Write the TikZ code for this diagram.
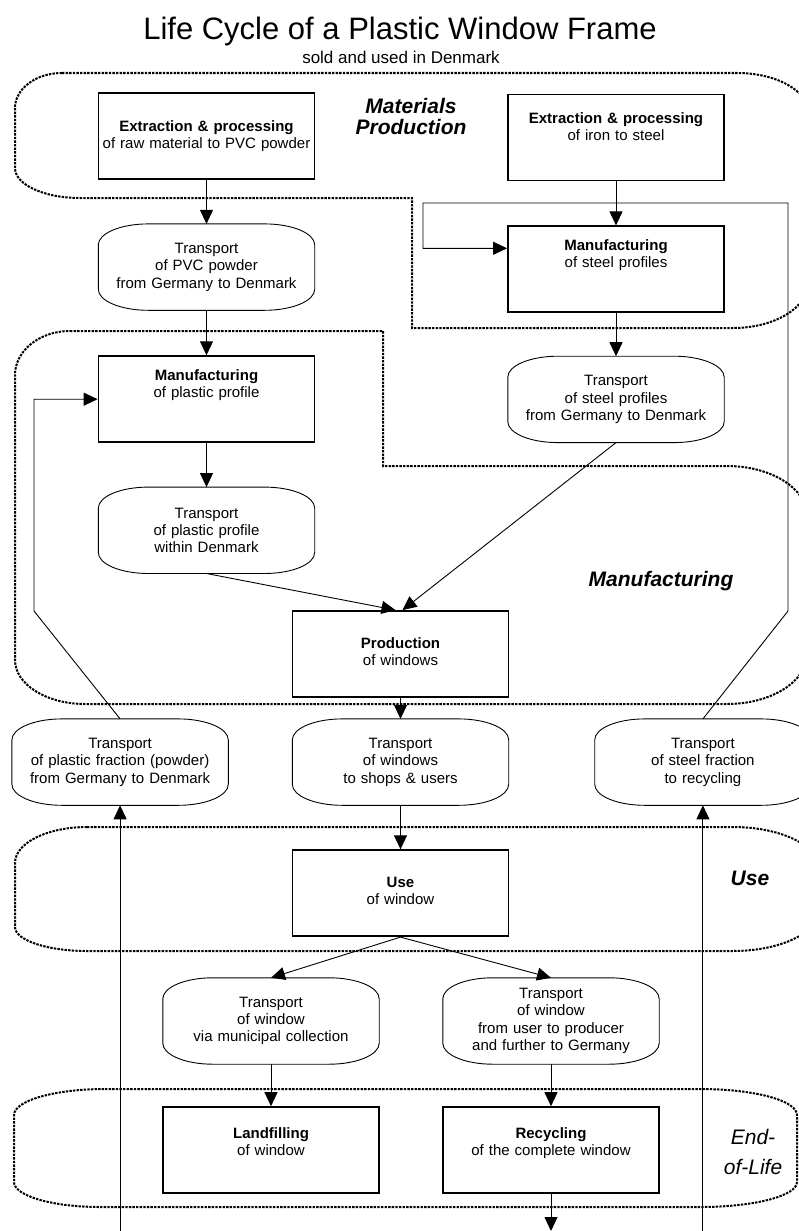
\documentclass[tikz,border=0pt]{standalone}
\usepackage{fontspec}
\setmainfont{Liberation Sans}
\usepackage{tikz}
\usetikzlibrary{arrows.meta,positioning,calc}
\definecolor{lcink}{RGB}{0,0,0}
\newcommand{\lcbody}{\fontsize{15}{17.3}\selectfont}
\tikzset{
  lcBox/.style={draw=lcink, line width=1.8pt, fill=white, align=center,
                text width=216pt, minimum width=216pt, minimum height=86pt,
                inner xsep=0pt, inner ysep=0pt, text height=0pt, text depth=#1,
                font=\lcbody},
  lcBox/.default=24pt,
  lcTransport/.style={align=center, text width=216pt, minimum width=216pt,
                      minimum height=86pt, inner sep=0pt, font=\lcbody},
  lcOutline/.style={draw=lcink, line width=0.9pt},
  lcArrow/.style={-{Triangle[length=14pt,width=13pt]}, line width=0.9pt, draw=lcink},
  lcPhase/.style={align=center, font=\fontsize{21}{21}\selectfont\bfseries\itshape},
  lcPhaseLine/.style={draw=lcink, line width=2pt, dash pattern=on 2.4pt off 1.2pt}
}
\newcommand{\lcTransportShape}[1]{%
  \draw[lcOutline]
    ($(#1.north west)+(50,0)$) -- ($(#1.north east)+(-50,0)$)
    .. controls ($(#1.north east)+(-22.4,0)$) and ($(#1.north east)+(0,9.4)$) .. ($(#1.north east)+(0,21)$)
    -- ($(#1.south east)+(0,-21)$)
    .. controls ($(#1.south east)+(0,-9.4)$) and ($(#1.south east)+(-22.4,0)$) .. ($(#1.south east)+(-50,0)$)
    -- ($(#1.south west)+(50,0)$)
    .. controls ($(#1.south west)+(22.4,0)$) and ($(#1.south west)+(0,-9.4)$) .. ($(#1.south west)+(0,-21)$)
    -- ($(#1.north west)+(0,21)$)
    .. controls ($(#1.north west)+(0,9.4)$) and ($(#1.north west)+(22.4,0)$) .. cycle;}

\begin{document}
\begin{tikzpicture}[x=1pt, y=-1pt, node distance=44pt]
  \useasboundingbox (0,0) rectangle (799,1231);
  \clip (0,0) rectangle (799,1231);

  \node[font=\fontsize{31}{34}\selectfont] (title) at (400,31) {Life Cycle of a Plastic Window Frame};
  \node[font=\fontsize{17}{20}\selectfont] (subtitle) at (401,57) {sold and used in Denmark};

  \draw[lcPhaseLine] (62,73) -- (737,73)
    .. controls (776,73) and (808,90.5) .. (808,112) -- (808,283)
    .. controls (808,307.8) and (774.4,328) .. (733,328) -- (412,328) -- (412,198) -- (80,198)
    .. controls (44,198) and (15,184.6) .. (15,168) -- (15,108)
    .. controls (15,88.7) and (36,73) .. cycle;
  \draw[lcPhaseLine] (70,331) -- (383,331) -- (383,466) -- (727,466)
    .. controls (771,466) and (807,488.4) .. (807,516) -- (807,654)
    .. controls (807,681.6) and (771,704) .. (727,704) -- (85,704)
    .. controls (46.4,704) and (15,684.3) .. (15,660) -- (15,375)
    .. controls (15,350.7) and (39.6,331) .. cycle;
  \draw[lcPhaseLine] (87,827) -- (733,827)
    .. controls (780,827) and (818,845) .. (818,867) -- (818,911)
    .. controls (818,933) and (780,951) .. (733,951) -- (87,951)
    .. controls (47.3,951) and (15,940.2) .. (15,927) -- (15,863)
    .. controls (15,843) and (47.3,827) .. cycle;
  \draw[lcPhaseLine] (105,1089) -- (700,1089)
    .. controls (754.6,1089) and (797,1100.6) .. (797,1115) -- (797,1182)
    .. controls (797,1195.8) and (754.6,1207) .. (700,1207) -- (100,1207)
    .. controls (52.5,1207) and (14,1195.8) .. (14,1182) -- (14,1115)
    .. controls (14,1100.6) and (55,1089) .. cycle;

  \node[lcPhase] (matLabel) at (411,116) {Materials\\Production};
  \node[lcPhase] (manLabel) at (661,581) {Manufacturing};
  \node[lcPhase] (useLabel) at (750,878) {Use};
  \node[lcPhase, font=\fontsize{21}{30}\selectfont\itshape] (eolLabel) at (753,1152) {End-\\of-Life};

  \node[lcBox=10pt] (pvcExt) at (206.5,136) {\textbf{Extraction \& processing}\\of raw material to PVC powder};
  \node[lcTransport, below=of pvcExt] (pvcTrans) {Transport\\of PVC powder\\from Germany to Denmark};
  \node[lcBox=38pt, below=45pt of pvcTrans] (plasticMan) {\textbf{Manufacturing}\\of plastic profile};
  \node[lcTransport, below=of plasticMan] (plasticTrans) {Transport\\of plastic profile\\within Denmark};
  \node[lcBox=28pt] (ironExt) at (616,137.5) {\textbf{Extraction \& processing}\\of iron to steel};
  \node[lcBox=38pt, below=of ironExt] (steelMan) {\textbf{Manufacturing}\\of steel profiles};
  \node[lcTransport, below=43pt of steelMan] (steelTrans) {Transport\\of steel profiles\\from Germany to Denmark};
  \node[lcBox=12pt] (windowProd) at (400.5,654) {\textbf{Production}\\of windows};
  \node[lcTransport, below=21pt of windowProd] (windowTrans) {Transport\\of windows\\to shops \& users};
  \node[lcTransport, left=64pt of windowTrans] (plasticFrac) {Transport\\of plastic fraction (powder)\\from Germany to Denmark};
  \node[lcTransport, right=86pt of windowTrans] (steelFrac) {Transport\\of steel fraction\\to recycling};
  \node[lcBox=12pt, below=of windowTrans] (windowUse) {\textbf{Use}\\of window};
  \node[lcTransport] (municipalTrans) at (271,1021) {Transport\\of window\\via municipal collection};
  \node[lcTransport] (producerTrans) at (551,1021) {Transport\\of window\\from user to producer\\and further to Germany};
  \node[lcBox, below=42pt of municipalTrans] (landfill) {\textbf{Landfilling}\\of window};
  \node[lcBox, below=42pt of producerTrans] (recycling) {\textbf{Recycling}\\of the complete window};

  \lcTransportShape{pvcTrans}
  \lcTransportShape{plasticTrans}
  \lcTransportShape{steelTrans}
  \lcTransportShape{windowTrans}
  \lcTransportShape{plasticFrac}
  \lcTransportShape{steelFrac}
  \lcTransportShape{municipalTrans}
  \lcTransportShape{producerTrans}

  \coordinate (bottomEdge) at (0,1231);
  \coordinate (recyclingOut) at (recycling.south |- bottomEdge);
  \coordinate (plasticReturn) at (plasticFrac.south |- bottomEdge);
  \coordinate (steelReturn) at (steelFrac.south |- bottomEdge);

  \draw[lcArrow] (pvcExt) -- (pvcTrans);
  \draw[lcArrow] (pvcTrans) -- (plasticMan);
  \draw[lcArrow] (plasticMan) -- (plasticTrans);
  \draw[lcArrow] (ironExt) -- (steelMan);
  \draw[lcArrow] (steelMan) -- (steelTrans);
  \draw[lcArrow] (plasticTrans.south) -- ($(windowProd.north)+(-5,0)$);
  \draw[lcArrow] (steelTrans.south) -- ($(windowProd.north)+(2,0)$);
  \draw[lcArrow] (windowProd) -- (windowTrans);
  \draw[lcArrow] (windowTrans) -- (windowUse);
  \draw[lcArrow] (windowUse.south) -- (municipalTrans.north);
  \draw[lcArrow] (windowUse.south) -- (producerTrans.north);
  \draw[lcArrow] (municipalTrans) -- (landfill);
  \draw[lcArrow] (producerTrans) -- (recycling);
  \draw[lcArrow] (recycling) -- (recyclingOut);
  \draw[lcArrow] (plasticReturn) -- (plasticFrac.south);
  \draw[lcArrow] (steelReturn) -- (steelFrac.south);
  \draw[lcArrow] (plasticFrac.north) -- (34,611) |- (plasticMan.west);
  \draw[lcArrow] (steelFrac.north) -- (788,611) |- (423,203) |- ($(steelMan.west)+(0,-21)$);
\end{tikzpicture}
\end{document}
